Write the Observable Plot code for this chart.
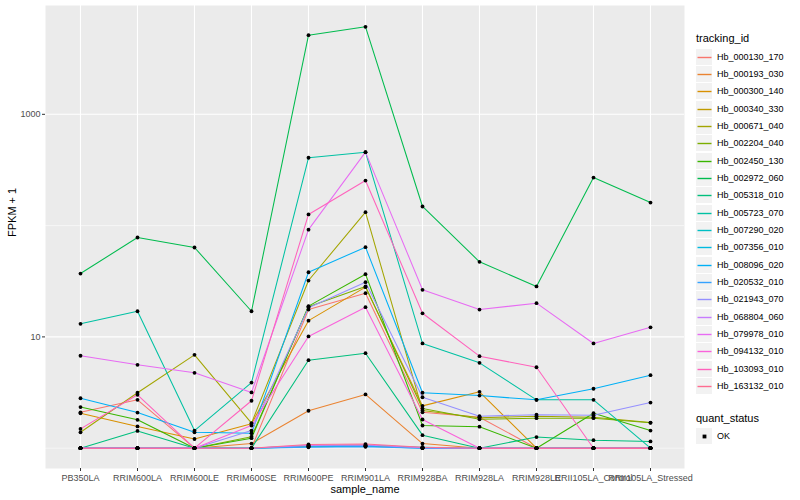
<!DOCTYPE html>
<html>
<head>
<meta charset="utf-8">
<script src="https://cdn.jsdelivr.net/npm/d3@7"></script>
<script src="https://cdn.jsdelivr.net/npm/@observablehq/plot@0.6"></script>
<style>
  body { margin: 0; background: #fff; }
  #wrap { position: relative; width: 800px; height: 500px; font-family: "Liberation Sans", Arial, Helvetica, sans-serif; }
  #legend { position: absolute; left: 696px; top: 31px; color: #000; }
  .ltitle { font-size: 11px; height: 14px; line-height: 14px; }
  .row { display: flex; align-items: center; height: 17.33px; }
  .row span { font-size: 9px; margin-left: 5px; }
  .key { width: 16px; height: 16px; background: #F2F2F2; }
</style>
</head>
<body>
<div id="wrap"></div>
<script>
const samples = ["PB350LA","RRIM600LA","RRIM600LE","RRIM600SE","RRIM600PE","RRIM901LA","RRIM928BA","RRIM928LA","RRIM928LE","RRII105LA_Control","RRII105LA_Stressed"];

const trackingIds = ["Hb_000130_170","Hb_000193_030","Hb_000300_140","Hb_000340_330","Hb_000671_040","Hb_002204_040","Hb_002450_130","Hb_002972_060","Hb_005318_010","Hb_005723_070","Hb_007290_020","Hb_007356_010","Hb_008096_020","Hb_020532_010","Hb_021943_070","Hb_068804_060","Hb_079978_010","Hb_094132_010","Hb_103093_010","Hb_163132_010"];

const colors = ["#F8766D","#EA8331","#D89000","#C09B00","#A3A500","#7CAE00","#39B600","#00BB4E","#00BF7D","#00C1A3","#00BFC4","#00BAE0","#00B0F6","#35A2FF","#9590FF","#C77CFF","#E76BF3","#FA62DB","#FF62BC","#FF6C91"];

// FPKM + 1, one list per tracking_id (same order as trackingIds), one value per sample
const fpkmPlus1 = [
  [2.10, 2.72, 1, 1, 17.6, 24.7, 2.10, 1.90, 1, 1, 1],
  [1, 1, 1, 1.10, 2.17, 3.04, 1.10, 1, 1, 1, 1],
  [2.06, 1.57, 1.21, 1.66, 14.0, 28.0, 2.40, 3.21, 1, 1, 1],
  [1, 1, 1, 1, 1.04, 1.05, 1.01, 1, 1, 1, 1],
  [1.39, 3.15, 6.9, 1.68, 32.1, 132, 2.18, 1.88, 1.94, 1.90, 1.70],
  [1, 1, 1, 1.27, 18.7, 28.4, 2.27, 1.82, 1.86, 1.86, 1.69],
  [2.34, 1.80, 1, 1.23, 18.9, 36.6, 1.60, 1.56, 1, 2.06, 1.44],
  [37.1, 78.2, 63.6, 17.0, 5140, 6110, 148.5, 47.3, 28.4, 270, 161],
  [1, 1.43, 1, 1, 6.18, 7.14, 1.31, 1, 1.26, 1.18, 1.15],
  [13.1, 17.0, 1.44, 3.89, 407, 457, 8.73, 5.85, 2.72, 2.72, 1],
  [1, 1, 1, 1, 1.05, 1.06, 1.02, 1, 1, 1, 1],
  [1, 1, 1, 1, 1.03, 1.04, 1, 1, 1, 1, 1],
  [2.81, 2.09, 1.39, 1.36, 38.1, 64, 3.15, 2.97, 2.72, 3.42, 4.53],
  [1, 1, 1, 1, 1.02, 1.03, 1, 1, 1, 1, 1],
  [1, 1, 1, 1.44, 18.3, 31.0, 2.87, 1.94, 2.0, 1.98, 2.57],
  [1, 1, 1, 1, 1.06, 1.07, 1.01, 1, 1, 1, 1],
  [6.77, 5.61, 4.76, 3.17, 92, 457, 26.5, 17.6, 20.1, 8.73, 12.2],
  [1, 1, 1, 1.60, 10.1, 18.5, 1.81, 1, 1, 1, 1],
  [1.49, 3.02, 1, 2.67, 126, 254, 16.3, 6.71, 5.34, 1, 1],
  [1, 1, 1, 1, 1.08, 1.09, 1.02, 1, 1, 1, 1]
];

const yMajor = [10, 1000];
const yMinor = [1, 100];
const quantStatus = ["OK"];

const rows = trackingIds.flatMap((id, i) =>
  samples.map((s, j) => ({tracking_id: id, sample_name: s, value: fpkmPlus1[i][j], quant_status: "OK"}))
);

const chart = Plot.plot({
  width: 800,
  height: 500,
  marginLeft: 45,
  marginRight: 116,
  marginTop: 5,
  marginBottom: 32,
  style: {fontFamily: "'Liberation Sans', Arial, Helvetica, sans-serif", background: "white"},
  x: {type: "point", domain: samples, padding: 0.6},
  y: {type: "log", domain: [0.657, 9500]},
  color: {domain: trackingIds, range: colors},
  marks: [
    Plot.frame({fill: "#EBEBEB", stroke: null}),
    Plot.ruleY(yMinor, {stroke: "white", strokeWidth: 0.55}),
    Plot.ruleY(yMajor, {stroke: "white", strokeWidth: 1.1}),
    Plot.ruleX(samples, {stroke: "white", strokeWidth: 1.1}),
    Plot.line(rows, {x: "sample_name", y: "value", z: "tracking_id", stroke: "tracking_id", strokeWidth: 1.05}),
    Plot.dot(rows, {x: "sample_name", y: "value", fill: "black", r: 1.9}),
    Plot.axisY({ticks: yMajor, tickFormat: d => String(d), tickSize: 3, tickPadding: 2, fontSize: 9, stroke: "#333333", fill: "#4D4D4D", label: null}),
    Plot.axisX({tickSize: 3, tickPadding: 3, fontSize: 9, stroke: "#333333", fill: "#4D4D4D", label: null}),
    Plot.text(["sample_name"], {frameAnchor: "bottom", dy: 24, fontSize: 11, fill: "black"}),
    Plot.text(["FPKM + 1"], {frameAnchor: "left", rotate: -90, dx: -33, fontSize: 11, fill: "black"})
  ]
});

const wrap = document.getElementById("wrap");
wrap.appendChild(chart);

// legend
const legend = document.createElement("div");
legend.id = "legend";
let html = '<div class="ltitle">tracking_id</div><div style="height:3px"></div>';
trackingIds.forEach((id, i) => {
  html += `<div class="row"><svg class="key" width="17" height="17"><rect width="17" height="17" fill="#F2F2F2"/><line x1="1.5" x2="15.5" y1="8.5" y2="8.5" stroke="${colors[i]}" stroke-width="1.4"/></svg><span>${id}</span></div>`;
});
html += '<div style="height:16px"></div><div class="ltitle">quant_status</div><div style="height:3px"></div>';
quantStatus.forEach(q => {
  html += `<div class="row"><svg class="key" width="17" height="17"><rect width="17" height="17" fill="#F2F2F2"/><rect x="6.6" y="6.6" width="3.8" height="3.8" fill="black"/></svg><span>${q}</span></div>`;
});
legend.innerHTML = html;
wrap.appendChild(legend);
</script>
</body>
</html>
